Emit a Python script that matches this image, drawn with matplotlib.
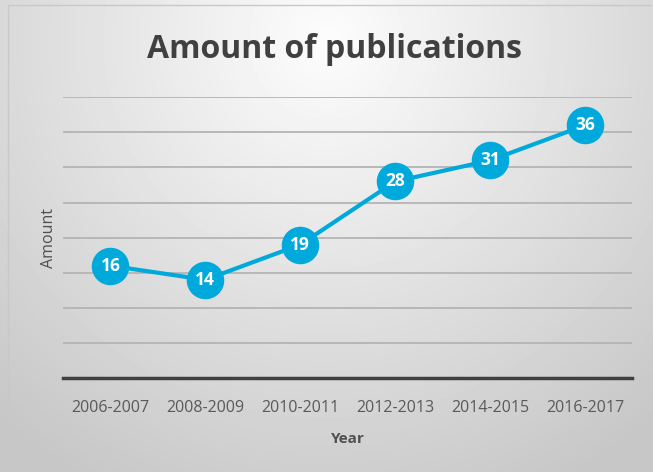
import numpy as np
from matplotlib import pyplot as plt

years = ['2006-2007', '2008-2009', '2010-2011', '2012-2013', '2014-2015', '2016-2017']
amount = [16, 14, 19, 28, 31, 36]

plt.rcParams['font.family'] = ['Open Sans', 'DejaVu Sans']

fig = plt.figure(figsize=(6.53, 4.72), dpi=100)

# radial gradient background
bg = fig.add_axes([0, 0, 1, 1], zorder=-10)
yy, xx = np.mgrid[0:472, 0:653]
r = np.sqrt(((xx - 326) / 420.0) ** 2 + ((yy - 40) / 430.0) ** 2)
shade = np.clip(0.99 - 0.18 * r, 0.78, 1.0)
bg.imshow(shade, cmap='gray', vmin=0, vmax=1, aspect='auto', extent=[0, 1, 0, 1])
bg.plot([0.012, 0.012, 0.995], [0.0, 0.99, 0.99], color='#c8c8c8', lw=1)
bg.set_xlim(0, 1)
bg.set_ylim(0, 1)
bg.axis('off')

ax = fig.add_axes([0.0965, 0.199, 0.872, 0.595])
ax.patch.set_alpha(0)
x = np.arange(len(years))
ax.plot(x, amount, color='#00a9dc', lw=3, marker='o', markersize=26,
        markerfacecolor='#00a9dc', markeredgecolor='#00a9dc', zorder=3)
for xi, v in zip(x, amount):
    ax.text(xi, v, str(v), ha='center', va='center', color='white',
            fontsize=12.5, fontweight='bold', zorder=4)

ax.set_xlim(-0.5, len(years) - 0.5)
ax.set_ylim(0, 40)
ax.set_yticks(np.arange(5, 41, 5))
ax.yaxis.grid(True, color='#b4b4b4', lw=1.3)
ax.set_yticklabels([])
ax.tick_params(axis='y', length=0)
ax.set_xticks(x)
ax.set_xticklabels(years, fontsize=11.5, color='#595959')
ax.tick_params(axis='x', length=0, pad=16)
for s in ['top', 'right', 'left']:
    ax.spines[s].set_visible(False)
ax.spines['bottom'].set_color('#404040')
ax.spines['bottom'].set_linewidth(2.5)

ax.set_xlabel('Year', fontsize=11, fontweight='bold', color='#505050', labelpad=11)
ax.set_ylabel('Amount', fontsize=11.5, color='#505050')
ax.yaxis.set_label_coords(-0.011, 0.5)

fig.text(0.512, 0.895, 'Amount of publications', ha='center', va='center',
         fontsize=23, fontweight='bold', color='#404040')

plt.savefig('out.png', dpi=100)
